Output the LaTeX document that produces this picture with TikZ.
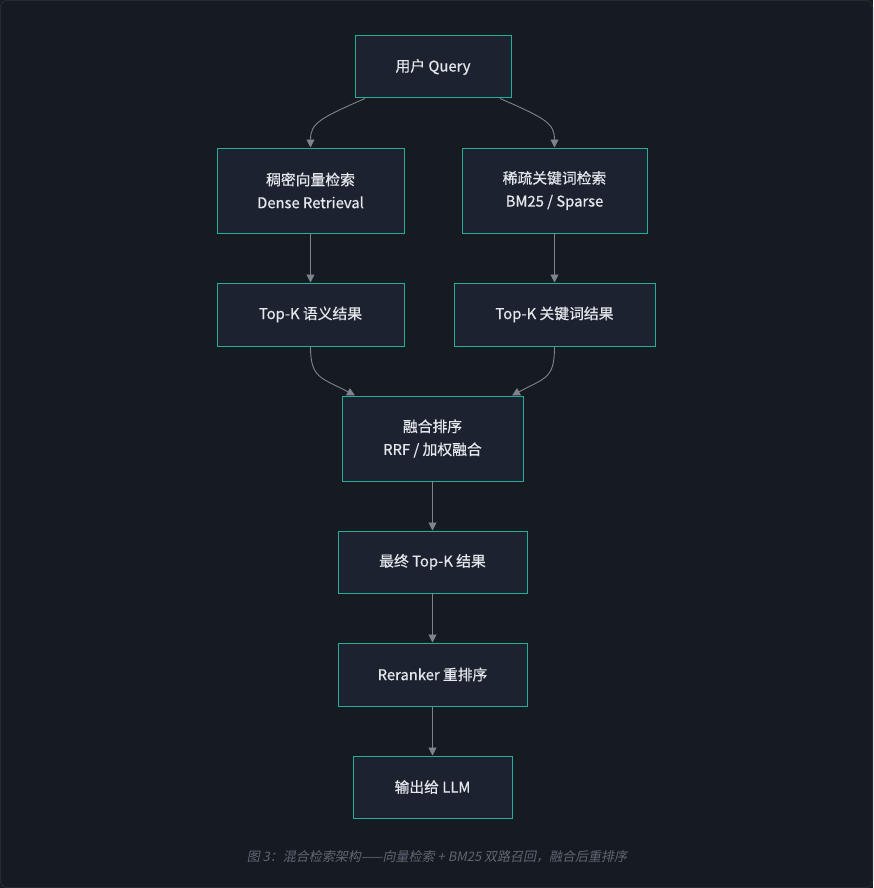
\documentclass[tikz,border=0pt]{standalone}
\usepackage{fontspec}
\setmainfont{Noto Sans CJK SC}[FakeBold=0.6]
\newfontfamily\boxfont[FakeBold=0.6]{Noto Sans CJK SC}
\newfontfamily\capfont[FakeSlant=0.2]{Noto Sans CJK SC}
\usetikzlibrary{arrows.meta}
\definecolor{bgc}{HTML}{161B22}
\definecolor{framec}{HTML}{232A33}
\definecolor{boxfill}{HTML}{1D2230}
\definecolor{boxline}{HTML}{22AE9B}
\definecolor{txtc}{HTML}{E4E7EB}
\definecolor{edgec}{HTML}{7C848E}
\definecolor{capc}{HTML}{5F6772}
\tikzset{
  box/.style={draw=boxline, line width=1pt, fill=boxfill, text=txtc, align=center,
    font=\boxfont\fontsize{14.8}{23}\selectfont, inner sep=0pt},
  conn/.style={draw=edgec, line width=0.9pt, -{Triangle[width=8pt,length=8pt]}}
}
\begin{document}
\begin{tikzpicture}[x=1pt,y=-1pt]
\useasboundingbox (0,0) rectangle (873,888);
\fill[bgc] (0,0) rectangle (873,888);
\draw[framec, line width=1.2pt, rounded corners=6pt] (0.6,0.6) rectangle (872.4,887.4);

\node[box, minimum width=156pt, minimum height=62pt] (query) at (433,67) {用户 Query};
\node[box, minimum width=187pt, minimum height=85pt] (dense) at (310.5,190.5) {稠密向量检索\\Dense Retrieval};
\node[box, minimum width=185pt, minimum height=85pt] (sparse) at (554.5,190.5) {稀疏关键词检索\\BM25 / Sparse};
\node[box, minimum width=187pt, minimum height=63pt] (topa) at (310.5,314.5) {Top-K 语义结果};
\node[box, minimum width=201pt, minimum height=63pt] (topb) at (554.5,314.5) {Top-K 关键词结果};
\node[box, minimum width=181pt, minimum height=85pt] (fuse) at (432.5,438.5) {融合排序\\RRF / 加权融合};
\node[box, minimum width=189pt, minimum height=62pt] (final) at (432.5,562) {最终 Top-K 结果};
\node[box, minimum width=189pt, minimum height=63pt] (rerank) at (432.5,674.5) {Reranker 重排序};
\node[box, minimum width=159pt, minimum height=62pt] (llm) at (432.5,787) {输出给 LLM};

\node[text=capc, font=\capfont\fontsize{13}{15}\selectfont] (cap) at (437,857) {图 3：混合检索架构——向量检索 + BM25 双路召回，融合后重排序};

\draw[conn] ([xshift=-68pt]query.south) .. controls +(-46,20) and +(0,-24) .. (dense.north);
\draw[conn] ([xshift=67pt]query.south) .. controls +(46,20) and +(0,-24) .. (sparse.north);
\draw[conn] (dense.south) -- (topa.north);
\draw[conn] (sparse.south) -- (topb.north);
\draw[conn] (topa.south) .. controls +(0,32) and +(-34,-18) .. ([xshift=-77.5pt]fuse.north);
\draw[conn] (topb.south) .. controls +(0,32) and +(34,-18) .. ([xshift=79.5pt]fuse.north);
\draw[conn] (fuse.south) -- (final.north);
\draw[conn] (final.south) -- (rerank.north);
\draw[conn] (rerank.south) -- (llm.north);
\end{tikzpicture}
\end{document}
